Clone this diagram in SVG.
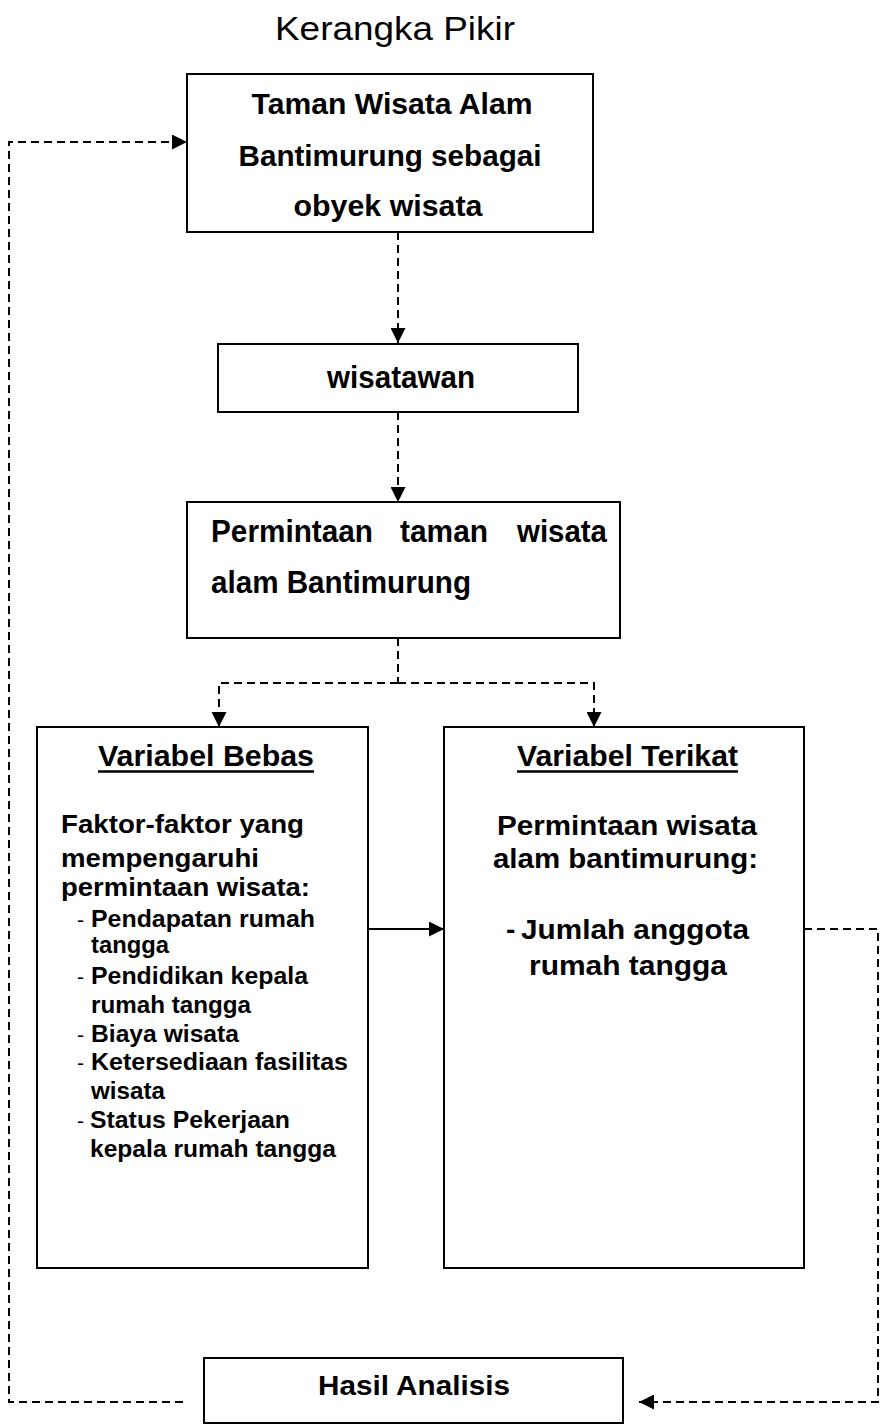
<svg xmlns="http://www.w3.org/2000/svg" width="882" height="1426" viewBox="0 0 882 1426">
<style>
.box{fill:#fff;stroke:#000;stroke-width:2}
.t{font-family:"Liberation Sans",Arial,sans-serif;font-weight:bold;fill:#000}
.c{text-anchor:middle}
.dash{fill:none;stroke:#000;stroke-width:2;stroke-dasharray:8 5}
.solid{fill:none;stroke:#000;stroke-width:2}
.ul{stroke:#000;stroke-width:2.5}
</style>
<defs>
<marker id="ah" markerUnits="userSpaceOnUse" markerWidth="15" markerHeight="15" refX="15" refY="7.5" orient="auto">
<path d="M0,0 L15,7.5 L0,15 Z" fill="#000"/>
</marker>
</defs>
<rect width="882" height="1426" fill="#fff"/>
<text x="395" y="40" font-family="Liberation Sans, Arial, sans-serif" font-size="34" text-anchor="middle" textLength="240" lengthAdjust="spacingAndGlyphs">Kerangka Pikir</text>

<g id="connectors">
<path class="dash" d="M398,232 V343" marker-end="url(#ah)"/>
<path class="dash" d="M398,412 V502" marker-end="url(#ah)"/>
<path class="dash" d="M398,638 V683"/>
<path class="dash" d="M398,683 H219 V727" marker-end="url(#ah)"/>
<path class="dash" d="M398,683 H594 V727" marker-end="url(#ah)"/>
<path class="solid" d="M368,929 H444" marker-end="url(#ah)"/>
<path class="dash" d="M804,929 H878 V1402 H639" marker-end="url(#ah)"/>
<path class="dash" d="M183,1402 H9 V142 H187" marker-end="url(#ah)"/>
</g>

<g id="node-taman">
<rect class="box" x="187" y="74" width="406" height="158"/>
<text class="t c" x="392" y="114" font-size="30" textLength="281" lengthAdjust="spacingAndGlyphs">Taman Wisata Alam</text>
<text class="t c" x="390" y="166" font-size="30" textLength="303" lengthAdjust="spacingAndGlyphs">Bantimurung sebagai</text>
<text class="t c" x="388" y="216" font-size="30" textLength="189" lengthAdjust="spacingAndGlyphs">obyek wisata</text>
</g>

<g id="node-wisatawan">
<rect class="box" x="218" y="344" width="360" height="68"/>
<text class="t c" x="401" y="388" font-size="31" textLength="148" lengthAdjust="spacingAndGlyphs">wisatawan</text>
</g>

<g id="node-permintaan">
<rect class="box" x="187" y="502" width="433" height="136"/>
<text class="t" x="211" y="542" font-size="31" textLength="162" lengthAdjust="spacingAndGlyphs">Permintaan</text>
<text class="t" x="400" y="542" font-size="31" textLength="88" lengthAdjust="spacingAndGlyphs">taman</text>
<text class="t" x="517" y="542" font-size="31" textLength="90" lengthAdjust="spacingAndGlyphs">wisata</text>
<text class="t" x="211" y="593" font-size="31" textLength="260" lengthAdjust="spacingAndGlyphs">alam Bantimurung</text>
</g>

<g id="node-variabel-bebas">
<rect class="box" x="37" y="727" width="331" height="541"/>
<text class="t" x="98" y="766" font-size="29" textLength="216" lengthAdjust="spacingAndGlyphs">Variabel Bebas</text>
<line class="ul" x1="98" y1="771.5" x2="314" y2="771.5"/>
<text class="t" x="61" y="833" font-size="25" textLength="243" lengthAdjust="spacingAndGlyphs">Faktor-faktor yang</text>
<text class="t" x="61" y="867" font-size="25" textLength="198" lengthAdjust="spacingAndGlyphs">mempengaruhi</text>
<text class="t" x="61" y="896" font-size="25" textLength="249" lengthAdjust="spacingAndGlyphs">permintaan wisata:</text>
<g font-family="Liberation Sans, Arial, sans-serif" font-size="21">
<text x="77" y="927">-</text>
<text x="77" y="984">-</text>
<text x="77" y="1042">-</text>
<text x="77" y="1070">-</text>
<text x="77" y="1128">-</text>
</g>
<text class="t" x="91" y="927" font-size="23" textLength="224" lengthAdjust="spacingAndGlyphs">Pendapatan rumah</text>
<text class="t" x="91" y="953" font-size="23" textLength="78" lengthAdjust="spacingAndGlyphs">tangga</text>
<text class="t" x="91" y="984" font-size="23" textLength="217" lengthAdjust="spacingAndGlyphs">Pendidikan kepala</text>
<text class="t" x="91" y="1013" font-size="23" textLength="160" lengthAdjust="spacingAndGlyphs">rumah tangga</text>
<text class="t" x="91" y="1042" font-size="23" textLength="148" lengthAdjust="spacingAndGlyphs">Biaya wisata</text>
<text class="t" x="91" y="1070" font-size="23" textLength="257" lengthAdjust="spacingAndGlyphs">Ketersediaan fasilitas</text>
<text class="t" x="91" y="1099" font-size="23" textLength="74" lengthAdjust="spacingAndGlyphs">wisata</text>
<text class="t" x="90" y="1128" font-size="23" textLength="200" lengthAdjust="spacingAndGlyphs">Status Pekerjaan</text>
<text class="t" x="90" y="1157" font-size="23" textLength="246" lengthAdjust="spacingAndGlyphs">kepala rumah tangga</text>
</g>

<g id="node-variabel-terikat">
<rect class="box" x="444" y="727" width="360" height="541"/>
<text class="t" x="517" y="766" font-size="29" textLength="221" lengthAdjust="spacingAndGlyphs">Variabel Terikat</text>
<line class="ul" x1="517" y1="771.5" x2="738" y2="771.5"/>
<text class="t" x="497" y="835" font-size="27" textLength="260" lengthAdjust="spacingAndGlyphs">Permintaan wisata</text>
<text class="t" x="493" y="868" font-size="27" textLength="265" lengthAdjust="spacingAndGlyphs">alam bantimurung:</text>
<text class="t" x="506" y="939" font-size="28">-</text>
<text class="t" x="521" y="939" font-size="28" textLength="228" lengthAdjust="spacingAndGlyphs">Jumlah anggota</text>
<text class="t" x="529" y="975" font-size="28" textLength="198" lengthAdjust="spacingAndGlyphs">rumah tangga</text>
</g>

<g id="node-hasil">
<rect class="box" x="204" y="1358" width="419" height="65"/>
<text class="t" x="318" y="1395" font-size="28" textLength="192" lengthAdjust="spacingAndGlyphs">Hasil Analisis</text>
</g>
</svg>
